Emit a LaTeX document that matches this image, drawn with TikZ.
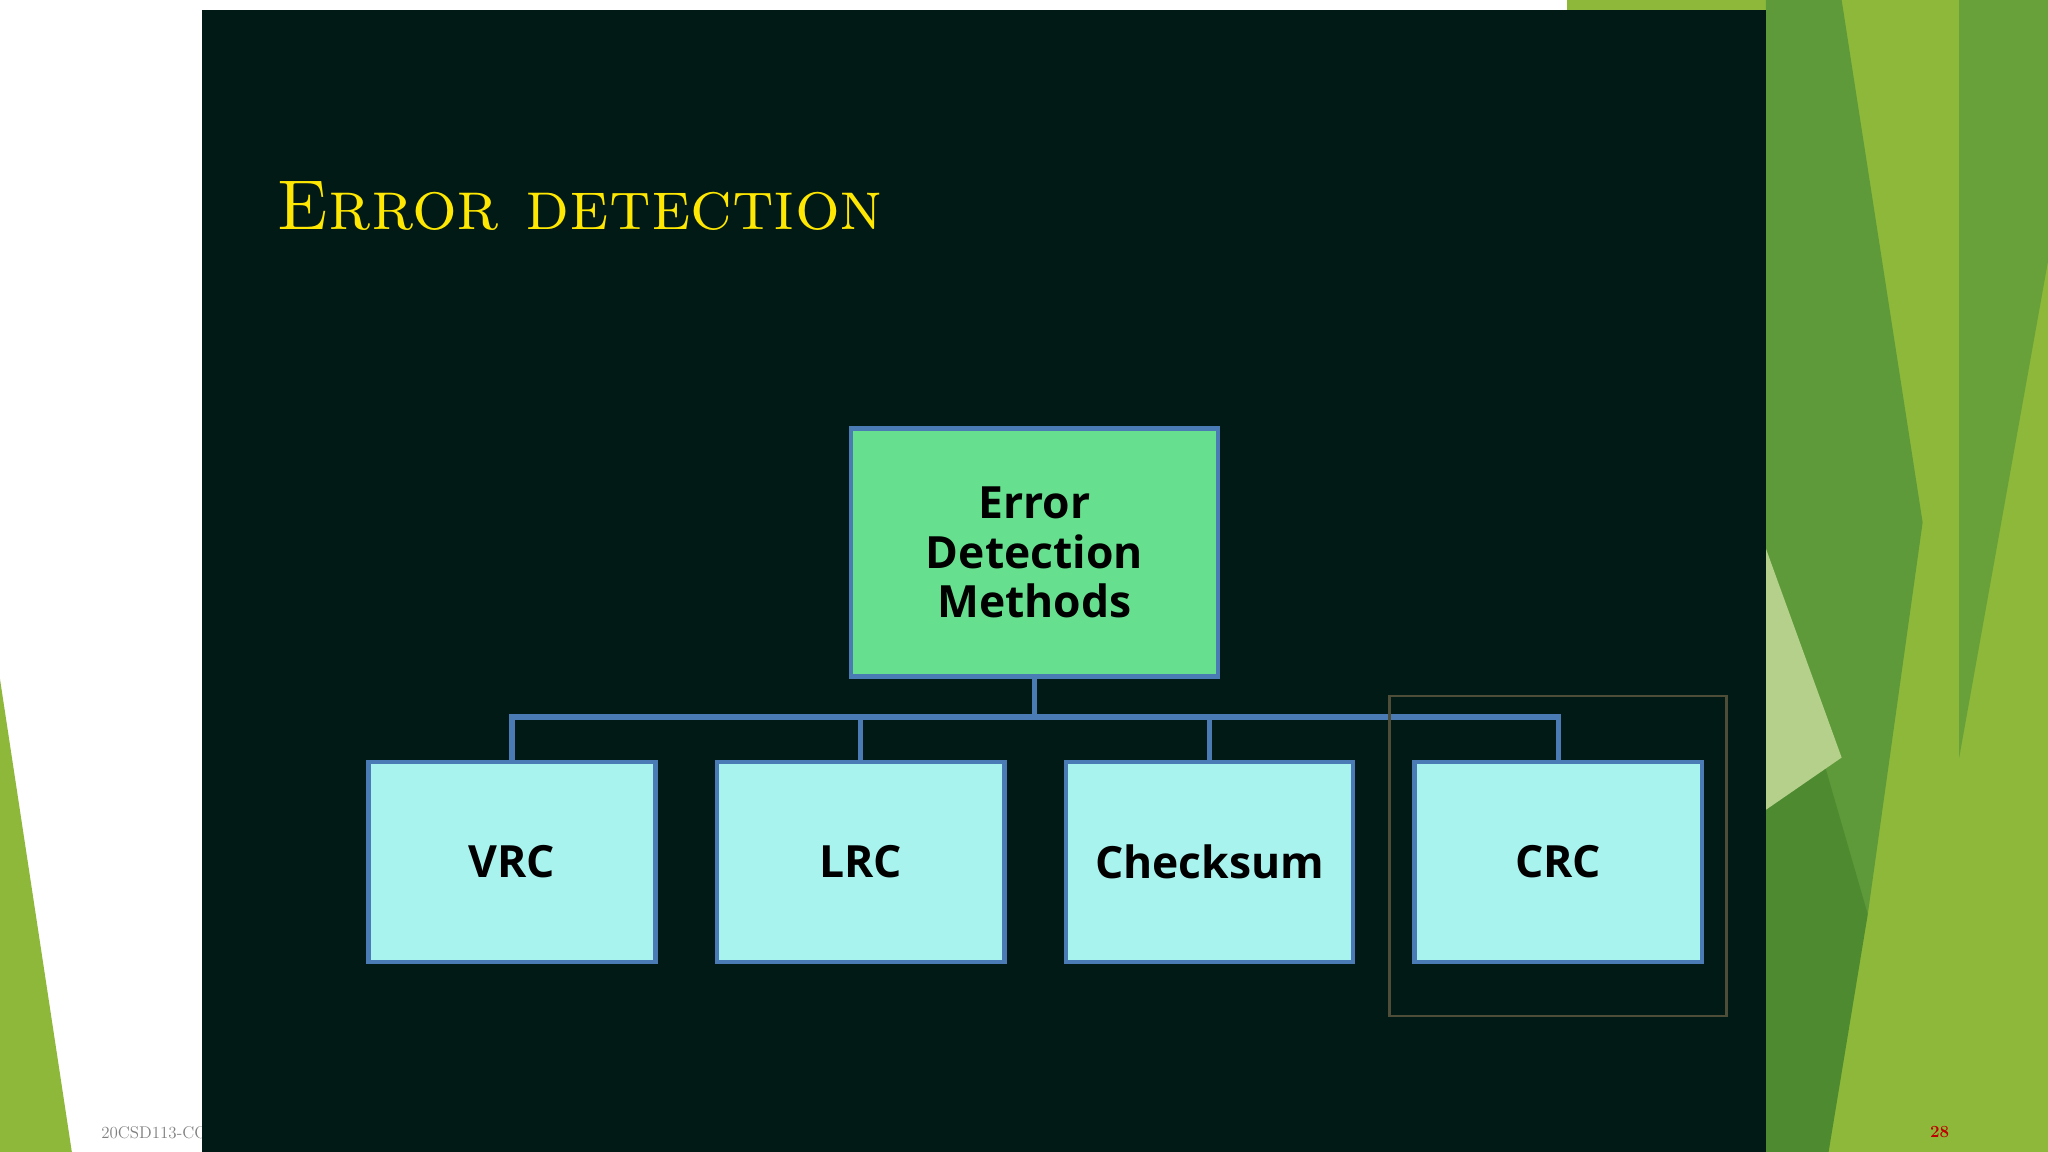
\documentclass[tikz,border=0pt]{standalone}
\usepackage{fontspec}
\newfontfamily\boxfont{Open Sans}
\usetikzlibrary{positioning}
\definecolor{slidebg}{HTML}{021A16}
\definecolor{boxedge}{HTML}{4A7BB5}
\definecolor{topfill}{HTML}{66E08F}
\definecolor{leaffill}{HTML}{A8F3EE}
\definecolor{leafA}{HTML}{8DB83A}
\definecolor{leafB}{HTML}{5E9A3A}
\definecolor{leafC}{HTML}{B5D08A}
\definecolor{leafD}{HTML}{4E8A30}
\tikzset{
  method/.style={draw=boxedge, line width=3.5pt, fill=leaffill, minimum width=220pt,
    minimum height=153pt, inner sep=0pt, font=\boxfont\bfseries\fontsize{34}{40}\selectfont},
  link/.style={draw=boxedge, line width=4pt}
}
\begin{document}
\begin{tikzpicture}[x=1pt,y=-1pt]
		\useasboundingbox (0,0) rectangle (1568,882);
		%background
		\fill[white] (0,0) rectangle (1568,882);
		\fill[leafA] (1200,0) rectangle (1568,882);
		\fill[leafB] (1352,0) -- (1410,0) -- (1472,400) -- (1430,700) -- (1352,560) -- cycle;
		\fill[leafD] (1352,430) -- (1430,700) -- (1400,882) -- (1352,882) -- cycle;
		\fill[leafC] (1352,420) -- (1410,580) -- (1352,620) -- cycle;
		\fill[leafB!80!leafA] (1500,0) -- (1568,0) -- (1568,200) -- (1500,580) -- cycle;
		\fill[leafA] (0,520) -- (55,882) -- (0,882) -- cycle;
		\node[anchor=west, text=gray, font=\fontsize{13}{15}\selectfont] (footer) at (74,867) {20CSD113-CO};
		\node[text=red!75!black, font=\bfseries\fontsize{13}{15}\selectfont] (pageno) at (1485,867) {28};
		%slide
		\fill[slidebg] (155,8) rectangle (1352,882);
		\node[anchor=west, text=yellow!90!orange, font=\fontsize{54}{60}\selectfont\scshape] (title) at (208,158) {Error detection};
		
		%tree
		\node[method, fill=topfill, minimum width=281pt, minimum height=190pt, align=center] (top) at (792,423) {Error\\[-2pt]Detection\\[-2pt]Methods};
		\node[method] (vrc) at (392,660) {VRC};
		\node[method] (lrc) at (659,660) {LRC};
		\node[method] (chk) at (926,660) {Checksum};
		\node[method] (crc) at (1193,660) {CRC};
		\coordinate (bus) at (792,549);
		\draw[link] (top.south) -- (bus);
		\draw[link] (vrc.north) |- (bus) -| (crc.north);
		\draw[link] (lrc.north) -- (lrc.north |- bus);
		\draw[link] (chk.north) -- (chk.north |- bus);
		\draw[draw=olive!30!slidebg, line width=2pt] (1064,533) rectangle (1322,778);
		
\end{tikzpicture}
\end{document}
